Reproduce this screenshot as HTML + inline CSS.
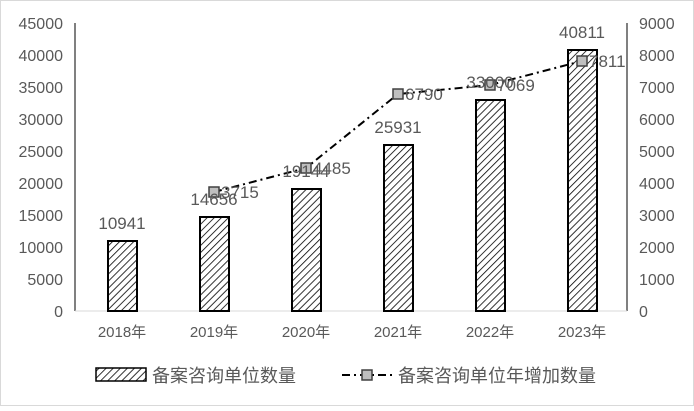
<!DOCTYPE html>
<html><head><meta charset="utf-8"><style>
body{margin:0;background:#fff}
svg text{font-family:"Liberation Sans","Noto Sans CJK SC",sans-serif;fill:#595959}
</style></head><body>
<svg width="694" height="406" viewBox="0 0 694 406" xmlns="http://www.w3.org/2000/svg">
<defs>
<pattern id="h" width="5" height="5" patternUnits="userSpaceOnUse" patternTransform="rotate(45)">
<rect width="5" height="5" fill="#fff"/><line x1="0" y1="0" x2="0" y2="5" stroke="#000" stroke-width="1.6"/>
</pattern>
</defs>
<rect x="0.5" y="0.5" width="693" height="405" fill="#fff" stroke="#d9d9d9"/>
<line x1="75" y1="23" x2="75" y2="311" stroke="#000"/>
<line x1="627" y1="23" x2="627" y2="311" stroke="#000"/>
<line x1="75" y1="311" x2="627" y2="311" stroke="#d9d9d9"/>
<g font-size="16" text-anchor="end">
<text x="63" y="317">0</text><text x="63" y="285">5000</text><text x="63" y="253">10000</text><text x="63" y="221">15000</text><text x="63" y="189">20000</text><text x="63" y="157">25000</text><text x="63" y="125">30000</text><text x="63" y="93">35000</text><text x="63" y="61">40000</text><text x="63" y="29">45000</text>
</g>
<g font-size="16" text-anchor="start">
<text x="639" y="317">0</text><text x="639" y="285">1000</text><text x="639" y="253">2000</text><text x="639" y="221">3000</text><text x="639" y="189">4000</text><text x="639" y="157">5000</text><text x="639" y="125">6000</text><text x="639" y="93">7000</text><text x="639" y="61">8000</text><text x="639" y="29">9000</text>
</g>
<g fill="url(#h)" stroke="#000" stroke-width="2">
<rect x="108" y="241" width="29" height="70"/>
<rect x="200" y="217" width="29" height="94"/>
<rect x="292" y="189" width="29" height="122"/>
<rect x="384" y="145" width="29" height="166"/>
<rect x="476" y="100" width="29" height="211"/>
<rect x="568" y="50" width="29" height="261"/>
</g>
<g font-size="15" text-anchor="middle">
<text x="122" y="337">2018年</text><text x="214" y="337">2019年</text><text x="306" y="337">2020年</text><text x="398" y="337">2021年</text><text x="490" y="337">2022年</text><text x="582" y="337">2023年</text>
</g>
<polyline points="214,192 306,168 398,94 490,85 582,61" fill="none" stroke="#000" stroke-width="2" stroke-dasharray="8,4,2,4"/>
<g fill="#bfbfbf" stroke="#404040" stroke-width="1.5">
<rect x="209" y="187" width="10" height="10"/><rect x="301" y="163" width="10" height="10"/><rect x="393" y="89" width="10" height="10"/><rect x="485" y="80" width="10" height="10"/><rect x="577" y="56" width="10" height="10"/>
</g>
<g font-size="17" text-anchor="middle">
<text x="122" y="229">10941</text><text x="214" y="205">14656</text><text x="306" y="177">19144</text><text x="398" y="133">25931</text><text x="490" y="88">33000</text><text x="582" y="38">40811</text>
</g>
<g font-size="17">
<text x="221" y="198">3715</text><text x="313" y="174">4485</text><text x="405" y="100">6790</text><text x="497" y="91">7069</text><text x="589" y="67">7811</text>
</g>
<rect x="96" y="368" width="50" height="13" fill="url(#h)" stroke="#000" stroke-width="1.5"/>
<text x="152" y="382" font-size="18">备案咨询单位数量</text>
<line x1="342" y1="375" x2="392" y2="375" stroke="#000" stroke-width="2" stroke-dasharray="8,4,2,4"/>
<rect x="362" y="370" width="10" height="10" fill="#bfbfbf" stroke="#404040" stroke-width="1.5"/>
<text x="398" y="382" font-size="18">备案咨询单位年增加数量</text>
</svg>
</body></html>
